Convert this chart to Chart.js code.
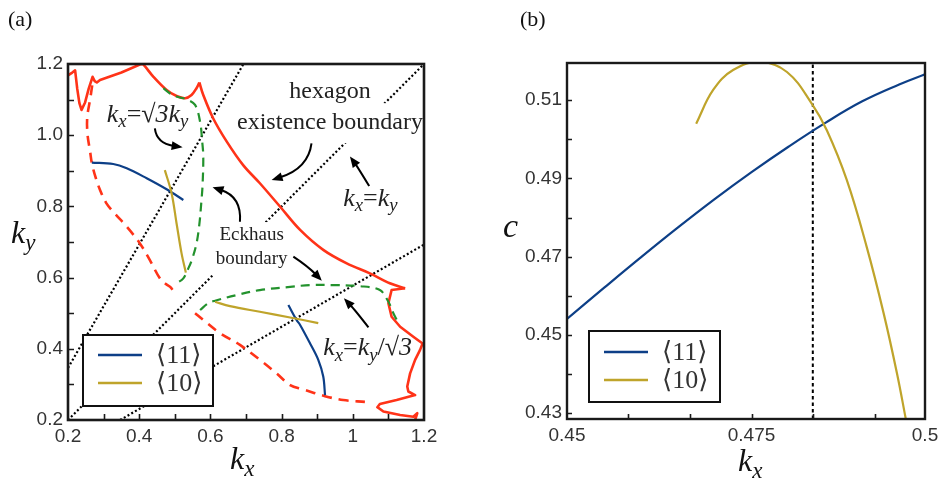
<!DOCTYPE html>
<html>
<head>
<meta charset="utf-8">
<script src="https://cdn.jsdelivr.net/npm/chart.js@4.4.1/dist/chart.umd.min.js"></script>
<style>
  html, body { margin: 0; padding: 0; background: #fff; width: 938px; height: 488px; overflow: hidden; }
  .panel { position: absolute; top: 0; height: 488px; }
  #wa { left: 0; width: 469px; }
  #wb { left: 469px; width: 480px; }
</style>
</head>
<body>
<div class="panel" id="wa"><canvas id="ca" width="469" height="488"></canvas></div>
<div class="panel" id="wb"><canvas id="cb" width="480" height="488"></canvas></div>
<script>
// ---- panel (a): curves in the (kx, ky) plane ----
// hexagon existence boundary, split at its cusps
const redTop = [
  [0.200, 1.168], [0.212, 1.176], [0.220, 1.182], [0.226, 1.130], [0.232, 1.090], [0.238, 1.071],
  [0.248, 1.092], [0.258, 1.130], [0.269, 1.164], [0.275, 1.152], [0.281, 1.148], [0.290, 1.155],
  [0.350, 1.176], [0.405, 1.200]
];
const redNotch = [
  [0.405, 1.200], [0.412, 1.198], [0.440, 1.164], [0.477, 1.127], [0.505, 1.110],
  [0.529, 1.104], [0.547, 1.113], [0.561, 1.132], [0.569, 1.148]
];
const redArc = [
  [0.569, 1.148], [0.580, 1.113], [0.608, 1.047], [0.646, 0.982], [0.692, 0.916], [0.739, 0.865],
  [0.796, 0.799], [0.852, 0.734], [0.917, 0.678], [0.983, 0.640], [1.048, 0.612], [1.104, 0.584],
  [1.147, 0.570]
];
const redTail = [
  [1.147, 0.570], [1.109, 0.565], [1.100, 0.528], [1.109, 0.490], [1.133, 0.462], [1.170, 0.434],
  [1.196, 0.415], [1.189, 0.397], [1.175, 0.369], [1.161, 0.331], [1.153, 0.294], [1.156, 0.280],
  [1.175, 0.270], [1.123, 0.256], [1.076, 0.245], [1.069, 0.236], [1.086, 0.224], [1.133, 0.214],
  [1.170, 0.209], [1.181, 0.219], [1.175, 0.200]
];
const redDashUpper = [
  [0.268, 1.140], [0.262, 1.100], [0.254, 1.050], [0.255, 1.000], [0.262, 0.955], [0.267, 0.921],
  [0.278, 0.880], [0.290, 0.846], [0.307, 0.810], [0.327, 0.785], [0.365, 0.743], [0.402, 0.696],
  [0.430, 0.649], [0.458, 0.598], [0.475, 0.582], [0.487, 0.574], [0.501, 0.556]
];
const redDashLower = [
  [0.557, 0.500], [0.580, 0.481], [0.627, 0.444], [0.683, 0.411], [0.739, 0.369], [0.786, 0.331],
  [0.824, 0.298], [0.860, 0.286], [0.922, 0.267], [0.973, 0.256], [1.034, 0.251]
];
const greenUpper = [
  [0.468, 1.132], [0.490, 1.115], [0.507, 1.108], [0.533, 1.101], [0.557, 1.085], [0.571, 1.038],
  [0.577, 0.982], [0.580, 0.940], [0.578, 0.860], [0.575, 0.818], [0.569, 0.750], [0.561, 0.696],
  [0.548, 0.650], [0.538, 0.626], [0.524, 0.598], [0.505, 0.584]
];
const greenLower = [
  [0.571, 0.509], [0.594, 0.528], [0.613, 0.535], [0.674, 0.551], [0.739, 0.565], [0.824, 0.574],
  [0.880, 0.579], [0.944, 0.579], [1.020, 0.576], [1.076, 0.565], [1.100, 0.532], [1.114, 0.500],
  [1.128, 0.472]
];
const blue11Upper = [[0.267, 0.923], [0.327, 0.919], [0.365, 0.907], [0.421, 0.879], [0.477, 0.848], [0.524, 0.818]];
const blue11Lower = [[0.819, 0.523], [0.842, 0.481], [0.852, 0.467], [0.880, 0.415], [0.903, 0.369], [0.917, 0.322], [0.922, 0.270]];
const gold10Upper = [[0.472, 0.902], [0.491, 0.837], [0.505, 0.752], [0.519, 0.668], [0.531, 0.614]];
const gold10Lower = [[0.613, 0.532], [0.655, 0.520], [0.739, 0.504], [0.824, 0.488], [0.903, 0.472]];
const lineSqrt3 = [[0.200, 0.3464], [0.6928, 1.200]];
const lineDiag = [[0.200, 0.200], [1.200, 1.200]];
const lineInvSqrt3 = [[0.3464, 0.200], [1.200, 0.6928]];

const xTicksA = [0.2, 0.3, 0.4, 0.5, 0.6, 0.7, 0.8, 0.9, 1.0, 1.1, 1.2];
const xLabelsA = ['0.2', '', '0.4', '', '0.6', '', '0.8', '', '1', '', '1.2'];
const yTicksA = [0.2, 0.3, 0.4, 0.5, 0.6, 0.7, 0.8, 0.9, 1.0, 1.1, 1.2];
const yLabelsA = ['0.2', '', '0.4', '', '0.6', '', '0.8', '', '1.0', '', '1.2'];

// ---- panel (b): speed c against kx ----
const c11Curve = [
  [0.4500, 0.4541], [0.4550, 0.4620], [0.4600, 0.4698], [0.4650, 0.4774], [0.4700, 0.4847],
  [0.4750, 0.4916], [0.4800, 0.4981], [0.4850, 0.5042], [0.4900, 0.5097], [0.4950, 0.5140],
  [0.4985, 0.5166]
];
const c10Curve = [
  [0.4675, 0.5040], [0.4698, 0.5126], [0.4725, 0.5177], [0.4762, 0.5198], [0.4798, 0.5172], [0.4832, 0.5090],
  [0.4852, 0.5023], [0.4879, 0.4896], [0.4906, 0.4725], [0.4929, 0.4555], [0.4947, 0.4402], [0.4959, 0.4285]
];
const cutLine = [[0.4833, 0.4285], [0.4833, 0.5195]];

const xTicksB = [0.45, 0.45833, 0.46667, 0.475, 0.48333, 0.49167, 0.4985];
const xLabelsB = ['0.45', '', '', '0.475', '', '', '0.5'];
const yTicksB = [0.43, 0.44, 0.45, 0.46, 0.47, 0.48, 0.49, 0.50, 0.51];
const yLabelsB = ['0.43', '', '0.45', '', '0.47', '', '0.49', '', '0.51'];

const RED = '#ff3318', GREEN = '#23922d', BLUE = '#0d3f87', GOLD = '#bfa42b';
const SERIF = '"Liberation Serif", "DejaVu Serif", "Times New Roman", serif';

const toPts = a => a.map(([x, y]) => ({ x, y }));
function curve(data, color, width, dash, tension) {
  return {
    data: toPts(data), borderColor: color, borderWidth: width, borderDash: dash || [],
    showLine: true, pointRadius: 0, fill: false, tension: tension === undefined ? 0.35 : tension,
    borderCapStyle: 'butt', borderJoinStyle: 'round'
  };
}

function axis(min, max, ticks, labels, fit) {
  return {
    type: 'linear', min, max,
    afterBuildTicks: s => { s.ticks = ticks.map(v => ({ value: v })); },
    afterFit: fit,
    grid: { display: false, drawTicks: false },
    border: { display: false },
    ticks: {
      autoSkip: false, maxRotation: 0, padding: 5, color: '#333',
      font: { family: '"Liberation Sans", Arial, sans-serif', size: 19 },
      callback: (v, i) => labels[i]
    }
  };
}

function richText(ctx, parts, x, y, size) {
  const fonts = parts.map(([, k]) => (k === 'r' ? '' : 'italic ') + (k === 'sub' ? size * 0.72 : size) + 'px ' + SERIF);
  const widths = parts.map(([t], i) => { ctx.font = fonts[i]; return ctx.measureText(t).width; });
  ctx.textAlign = 'left';
  ctx.textBaseline = 'alphabetic';
  let cx = x;
  parts.forEach(([t, k], i) => {
    ctx.font = fonts[i];
    ctx.fillText(t, cx, y + (k === 'sub' ? size * 0.22 : 0));
    cx += widths[i];
  });
}

function arrow(ctx, p0, c, p1) {
  const ang = Math.atan2(p1.y - c.y, p1.x - c.x);
  const L = 11, W = 4.5;
  const bx = p1.x - (L - 2) * Math.cos(ang), by = p1.y - (L - 2) * Math.sin(ang);
  ctx.beginPath();
  ctx.moveTo(p0.x, p0.y);
  ctx.quadraticCurveTo(c.x, c.y, bx, by);
  ctx.stroke();
  ctx.beginPath();
  ctx.moveTo(p1.x, p1.y);
  ctx.lineTo(p1.x - L * Math.cos(ang) + W * Math.sin(ang), p1.y - L * Math.sin(ang) - W * Math.cos(ang));
  ctx.lineTo(p1.x - L * Math.cos(ang) - W * Math.sin(ang), p1.y - L * Math.sin(ang) + W * Math.cos(ang));
  ctx.closePath();
  ctx.fill();
}

// frame, inward ticks, legend, titles
function frameAndTicks(chart, xTicks, yTicks, len, lw) {
  const { ctx, chartArea: a, scales: { x, y } } = chart;
  ctx.save();
  ctx.strokeStyle = '#1a1a1a';
  ctx.lineWidth = 1.6;
  ctx.beginPath();
  xTicks.forEach(v => {
    if (v <= x.min || v >= x.max) return;
    const px = Math.round(x.getPixelForValue(v)) + 0.5;
    ctx.moveTo(px, a.bottom); ctx.lineTo(px, a.bottom - len);
  });
  yTicks.forEach(v => {
    if (v <= y.min || v >= y.max) return;
    const py = Math.round(y.getPixelForValue(v)) + 0.5;
    ctx.moveTo(a.left, py); ctx.lineTo(a.left + len, py);
  });
  ctx.stroke();
  ctx.lineWidth = lw;
  ctx.strokeRect(a.left, a.top, a.right - a.left, a.bottom - a.top);
  ctx.restore();
}

function legendBox(ctx, bx, by, bw, bh, lx0, lx1, rows) {
  ctx.save();
  ctx.fillStyle = '#fff';
  ctx.fillRect(bx, by, bw, bh);
  ctx.strokeStyle = '#111';
  ctx.lineWidth = 2;
  ctx.strokeRect(bx, by, bw, bh);
  rows.forEach(r => {
    ctx.strokeStyle = r.color;
    ctx.lineWidth = 2.5;
    ctx.beginPath(); ctx.moveTo(lx0, r.y); ctx.lineTo(lx1, r.y); ctx.stroke();
    ctx.fillStyle = '#333';
    ctx.font = '26px ' + SERIF;
    ctx.textAlign = 'left';
    ctx.textBaseline = 'middle';
    ctx.fillText(r.text, lx1 + 14, r.y + 1);
  });
  ctx.restore();
}

// white boxes behind text (hide the dotted guide lines there), in data units
const textMasks = [
  [0.675, 0.978, 1.198, 1.090],
  [0.607, 0.604, 0.826, 0.756]
];
const arrowsA = [
  [[0.444, 1.019], [0.449, 0.977], [0.522, 0.966]],
  [[0.884, 0.977], [0.875, 0.907], [0.772, 0.874]],
  [[1.046, 0.857], [1.016, 0.907], [0.992, 0.940]],
  [[0.683, 0.757], [0.688, 0.827], [0.606, 0.854]],
  [[0.833, 0.659], [0.875, 0.631], [0.913, 0.591]],
  [[1.044, 0.460], [1.006, 0.509], [0.975, 0.542]]
];
const DOTTED_FIRST = 12; // index of the first dotted guide line

const decorA = {
  id: 'decorA',
  afterDatasetDraw(chart, args) {
    if (args.index !== DOTTED_FIRST) return;
    const { ctx, scales: { x, y } } = chart;
    ctx.save();
    ctx.fillStyle = '#fff';
    textMasks.forEach(([x0, y0, x1, y1]) => {
      const px0 = x.getPixelForValue(x0), px1 = x.getPixelForValue(x1);
      const py0 = y.getPixelForValue(y0), py1 = y.getPixelForValue(y1);
      ctx.fillRect(px0, py1, px1 - px0, py0 - py1);
    });
    ctx.restore();
  },
  afterDatasetsDraw(chart) {
    const { ctx, scales: { x, y } } = chart;
    const P = ([kx, ky]) => ({ x: x.getPixelForValue(kx), y: y.getPixelForValue(ky) });
    ctx.save();
    ctx.fillStyle = '#222';
    ctx.textAlign = 'center';
    ctx.textBaseline = 'middle';
    ctx.font = '24px ' + SERIF;
    let p = P([0.936, 1.122]); ctx.fillText('hexagon', p.x, p.y);
    p = P([0.936, 1.034]); ctx.fillText('existence boundary', p.x, p.y);
    ctx.font = '19px ' + SERIF;
    p = P([0.716, 0.720]); ctx.fillText('Eckhaus', p.x, p.y);
    p = P([0.716, 0.651]); ctx.fillText('boundary', p.x, p.y);
    p = P([0.309, 1.038]);
    richText(ctx, [['k', 'i'], ['x', 'sub'], ['=', 'r'], ['\u221A', 'r'], ['3', 'i'], ['k', 'i'], ['y', 'sub']], p.x, p.y, 26);
    p = P([0.973, 0.802]);
    richText(ctx, [['k', 'i'], ['x', 'sub'], ['=', 'r'], ['k', 'i'], ['y', 'sub']], p.x, p.y, 26);
    p = P([0.917, 0.383]);
    richText(ctx, [['k', 'i'], ['x', 'sub'], ['=', 'r'], ['k', 'i'], ['y', 'sub'], ['/\u221A', 'r'], ['3', 'i']], p.x, p.y, 26);
    ctx.strokeStyle = '#000';
    ctx.fillStyle = '#000';
    ctx.lineWidth = 2;
    arrowsA.forEach(([s, c, e]) => arrow(ctx, P(s), P(c), P(e)));
    ctx.restore();

    frameAndTicks(chart, xTicksA, yTicksA, 6, 2.6);
    const a = chart.chartArea;
    legendBox(ctx, a.left + 15, a.top + 271, 130, 71, a.left + 30, a.left + 74, [
      { color: BLUE, y: a.top + 291, text: '\u27E811\u27E9' },
      { color: GOLD, y: a.top + 319, text: '\u27E810\u27E9' }
    ]);
    ctx.save();
    ctx.fillStyle = '#111';
    richText(ctx, [['k', 'i'], ['x', 'sub']], 230, 469, 32);
    richText(ctx, [['k', 'i'], ['y', 'sub']], 11, 243, 32);
    ctx.font = '22px ' + SERIF;
    ctx.textAlign = 'left';
    ctx.textBaseline = 'alphabetic';
    ctx.fillText('(a)', 8, 26);
    ctx.restore();
  }
};

const decorB = {
  id: 'decorB',
  afterDatasetsDraw(chart) {
    const { ctx } = chart;
    frameAndTicks(chart, xTicksB, yTicksB, 5, 2.4);
    const a = chart.chartArea;
    legendBox(ctx, a.left + 22, a.top + 268, 131, 71, a.left + 37, a.left + 81, [
      { color: BLUE, y: a.top + 289, text: '\u27E811\u27E9' },
      { color: GOLD, y: a.top + 317, text: '\u27E810\u27E9' }
    ]);
    ctx.save();
    ctx.fillStyle = '#111';
    richText(ctx, [['c', 'i']], 34, 237, 34);
    richText(ctx, [['k', 'i'], ['x', 'sub']], 269, 471, 32);
    ctx.font = '22px ' + SERIF;
    ctx.textAlign = 'left';
    ctx.textBaseline = 'alphabetic';
    ctx.fillText('(b)', 51, 26);
    ctx.restore();
  }
};

const common = {
  responsive: false,
  animation: false,
  devicePixelRatio: 1,
  plugins: { legend: { display: false }, tooltip: { enabled: false } },
  events: []
};

const DOT = [2, 2.3];
new Chart(document.getElementById('ca'), {
  type: 'scatter',
  data: {
    datasets: [
      curve(gold10Upper, GOLD, 2.2),
      curve(gold10Lower, GOLD, 2.2),
      curve(blue11Upper, BLUE, 2.2),
      curve(blue11Lower, BLUE, 2.2),
      curve(greenUpper, GREEN, 2.2, [9, 6]),
      curve(greenLower, GREEN, 2.2, [9, 6]),
      curve(redTop, RED, 2.6, [], 0),
      curve(redNotch, RED, 2.6, [], 0.35),
      curve(redArc, RED, 2.6, [], 0.35),
      curve(redTail, RED, 2.6, [], 0),
      curve(redDashUpper, RED, 2.6, [10, 7]),
      curve(redDashLower, RED, 2.6, [10, 7]),
      curve(lineSqrt3, '#000', 2.2, DOT, 0),
      curve(lineDiag, '#000', 2.2, DOT, 0),
      curve(lineInvSqrt3, '#000', 2.2, DOT, 0)
    ]
  },
  options: Object.assign({}, common, {
    layout: { padding: { top: 64, right: 45, left: 0, bottom: 0 } },
    scales: {
      x: axis(0.2, 1.2, xTicksA, xLabelsA, s => { s.height = 68; }),
      y: axis(0.2, 1.2, yTicksA, yLabelsA, s => { s.width = 68; })
    }
  }),
  plugins: [decorA]
});

new Chart(document.getElementById('cb'), {
  type: 'scatter',
  data: {
    datasets: [
      curve(c10Curve, GOLD, 2.2, [], 0.4),
      curve(c11Curve, BLUE, 2.2, [], 0.4),
      curve(cutLine, '#000', 2, [3.5, 3], 0)
    ]
  },
  options: Object.assign({}, common, {
    layout: { padding: { top: 63, right: 24, left: 0, bottom: 0 } },
    scales: {
      x: axis(0.45, 0.4985, xTicksB, xLabelsB, s => { s.height = 69; }),
      y: axis(0.4285, 0.5195, yTicksB, yLabelsB, s => { s.width = 98; })
    }
  }),
  plugins: [decorB]
});
</script>
</body>
</html>
